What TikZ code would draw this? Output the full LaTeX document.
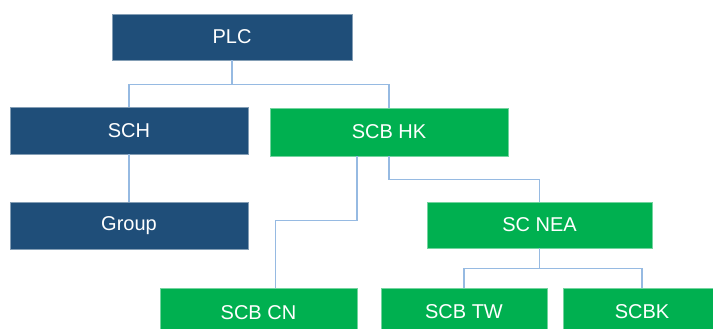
\documentclass[tikz,border=0pt]{standalone}
\usepackage{fontspec}
\setmainfont{Liberation Sans}
\usetikzlibrary{positioning}

\definecolor{navy}{RGB}{31,78,121}
\definecolor{sgreen}{RGB}{0,176,80}
\definecolor{linkblue}{RGB}{150,186,226}

\tikzset{
  entity/.style={rectangle, draw=#1!55!white, fill=#1, text=white,
    line width=0.6pt, inner sep=0pt,
    font=\fontsize{20}{24}\selectfont},
  holding/.style={entity=navy},
  bank/.style={entity=sgreen},
  link/.style={draw=linkblue, line width=1.4pt}
}

\begin{document}
\begin{tikzpicture}[x=1pt, y=-1pt]
  \useasboundingbox (0,0) rectangle (713,329);

  \node[holding, minimum width=240pt, minimum height=46pt] (PLC) at (232,37) {PLC};
  \node[holding, minimum width=238pt, minimum height=47pt] (SCH) at (129,130.5) {SCH};
  \node[bank, minimum width=238pt, minimum height=48pt] (HK) at (389,132) {SCB HK};
  \node[holding, minimum width=238pt, minimum height=47pt] (Group) at (129,225.5) {Group};
  \node[bank, minimum width=225pt, minimum height=46pt] (NEA) at (539.5,225) {SC NEA};
  \node[bank, minimum width=197pt, minimum height=48pt] (CN) at (258.5,312.5) {SCB CN};
  \node[bank, minimum width=166pt, minimum height=48pt] (TW) at (464,312) {SCB TW};
  \node[bank, minimum width=158pt, minimum height=48pt] (BK) at (642,312) {SCBK};

  \draw[link] (PLC.south) -- ++(0,24) -| (SCH.north);
  \draw[link] (PLC.south) -- ++(0,24) -| (HK.north);
  \draw[link] (SCH) -- (Group);
  \draw[link] ([xshift=-32pt]HK.south) -- ++(0,64) -| ([xshift=17pt]CN.north);
  \draw[link] (HK.south) -- ++(0,23) -| (NEA.north);
  \draw[link] (NEA.south) -- ++(0,20) -| (TW.north);
  \draw[link] (NEA.south) -- ++(0,20) -| (BK.north);
\end{tikzpicture}
\end{document}
